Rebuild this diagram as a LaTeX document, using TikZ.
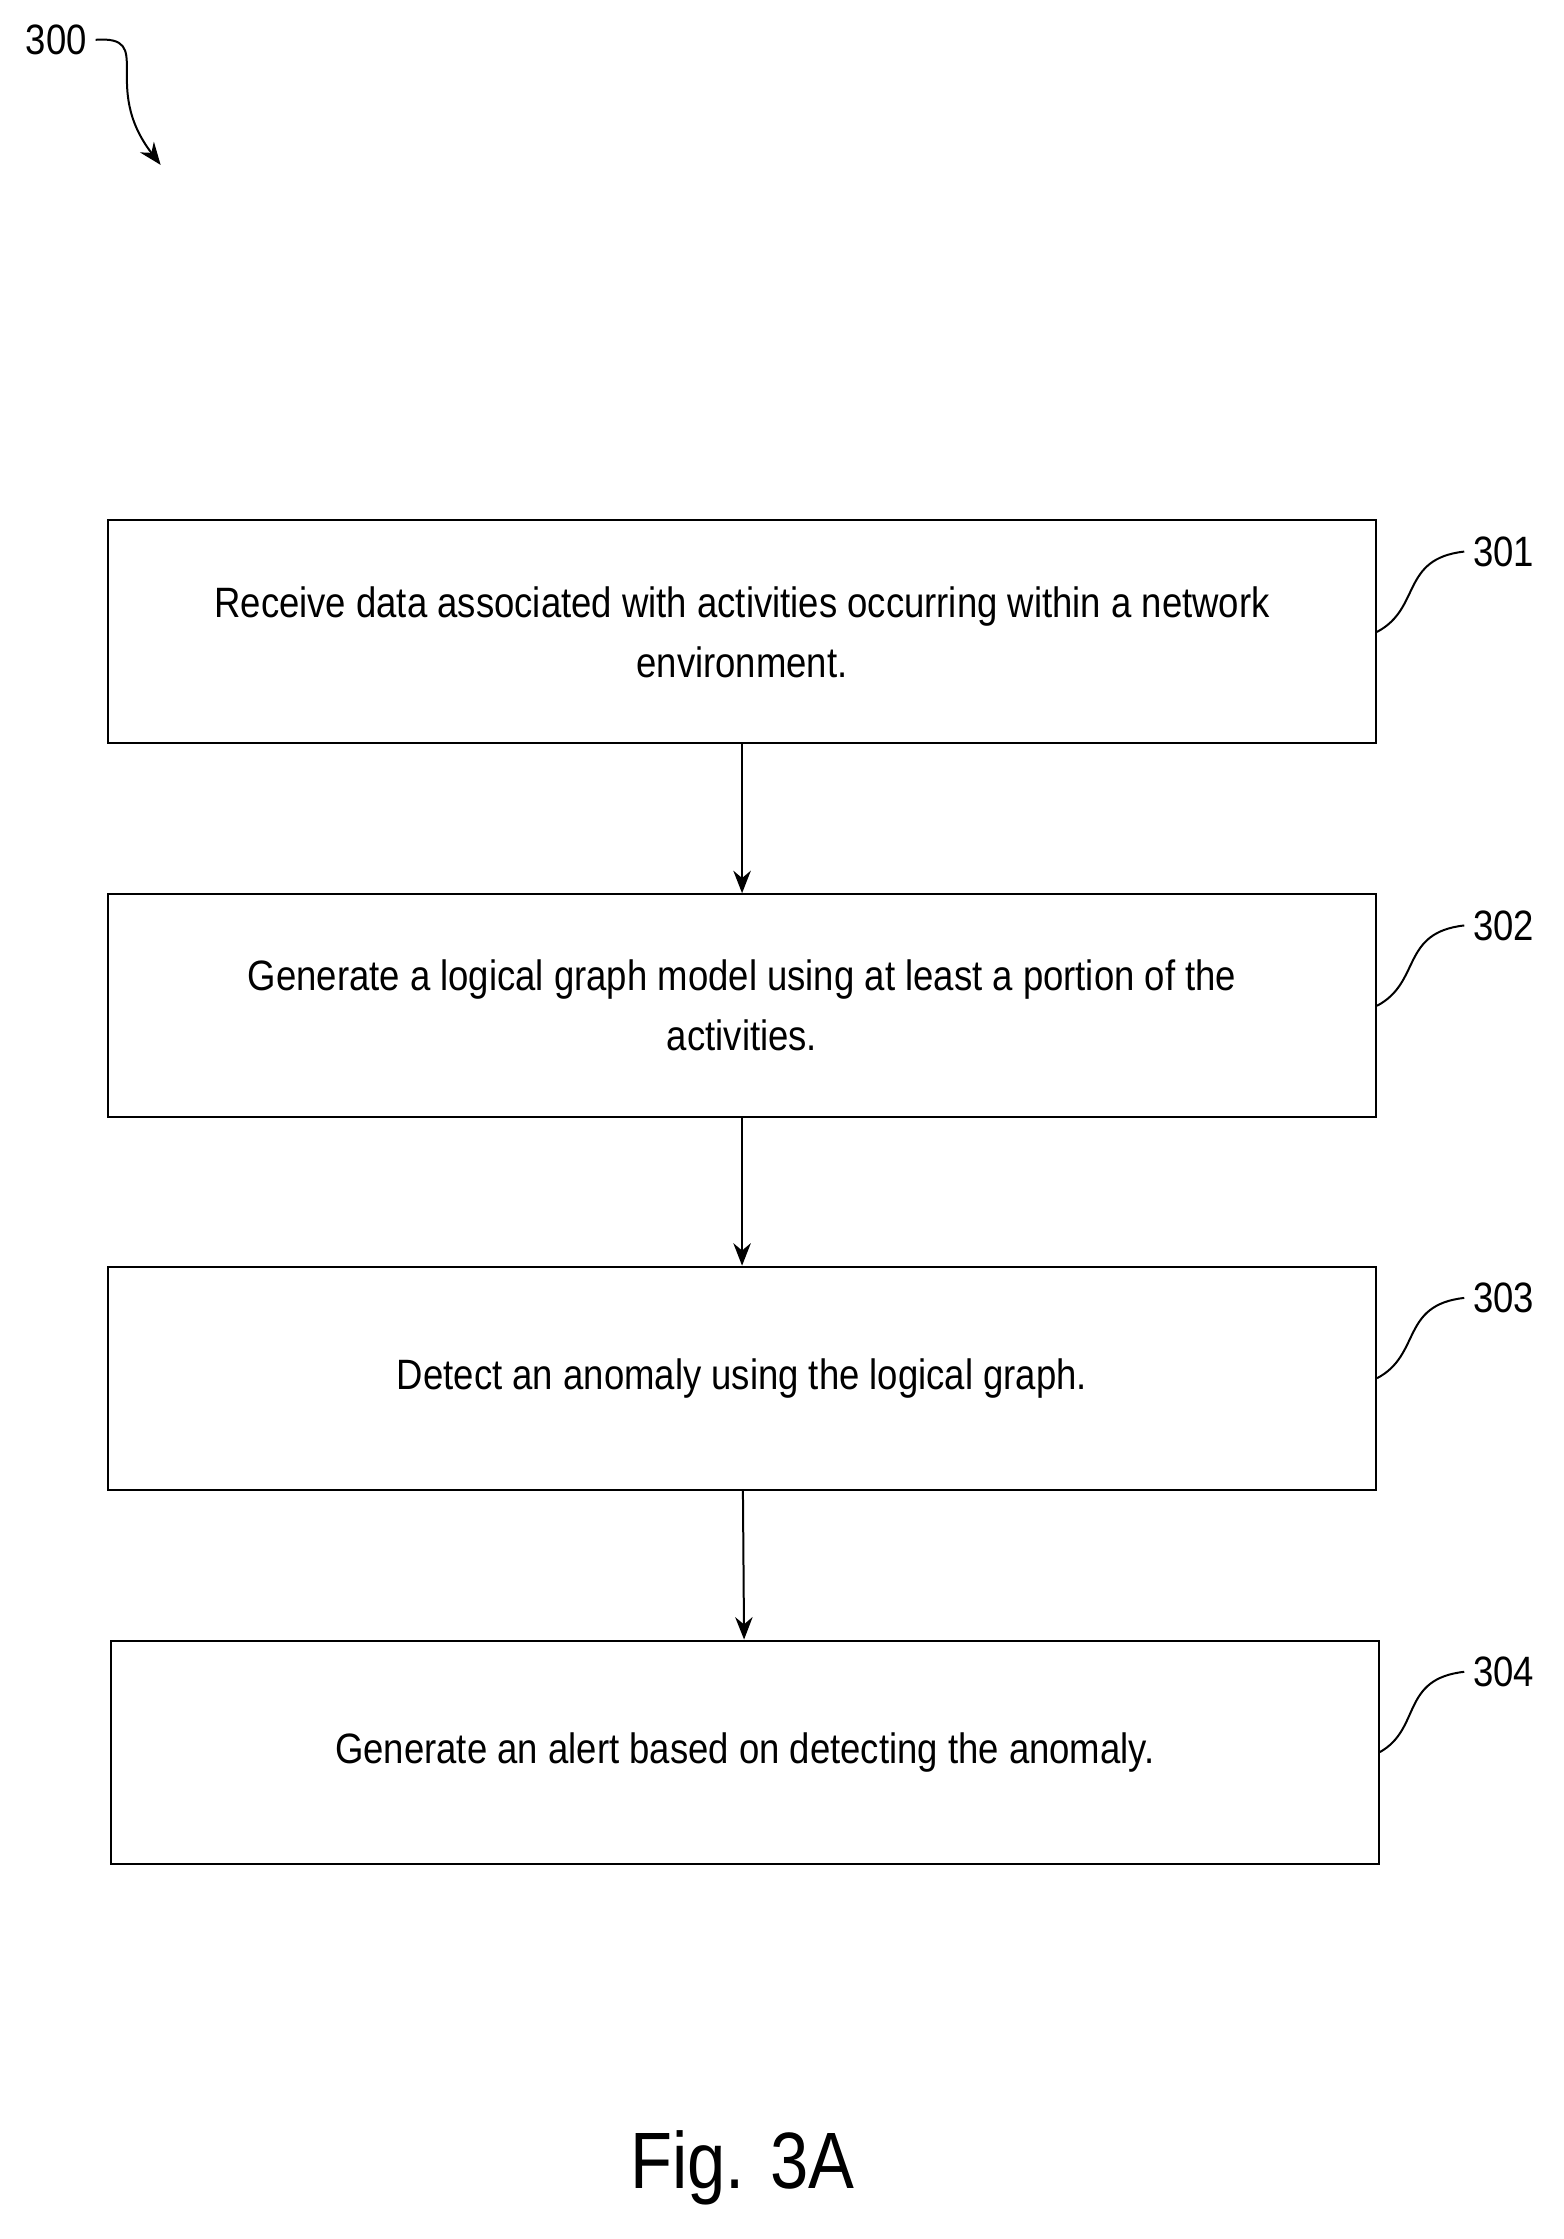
\documentclass[tikz,border=0pt]{standalone}
\usetikzlibrary{arrows.meta}
\usepackage{fontspec}
\usepackage{graphicx}
\setmainfont{Liberation Sans}
\newcommand{\nx}[1]{\scalebox{0.86}[1]{#1}}
\begin{document}
\begin{tikzpicture}[x=0.02cm,y=-0.02cm,
  box/.style={draw,line width=0.8pt,minimum width=17.84cm,minimum height=3.14cm,align=center,font=\fontsize{17}{24}\selectfont},
  lab/.style={font=\fontsize{17}{20}\selectfont},
  arr/.style={-{Stealth[length=9pt,width=7pt]},line width=0.8pt}]
\useasboundingbox (0,0) rectangle (1100,1575);
\node[box] (b1) at (522,444.5) {\nx{Receive data associated with activities occurring within a network}\\\nx{environment.}};
\node[box] (b2) at (522,707.5) {\nx{Generate a logical graph model using at least a portion of the}\\\nx{activities.}};
\node[box] (b3) at (522,969.5) {\nx{Detect an anomaly using the logical graph.}};
\node[box] (b4) at (524,1232.5) {\nx{Generate an alert based on detecting the anomaly.}};
\draw[arr] (b1) -- (b2);
\draw[arr] (b2) -- (b3);
\draw[arr] (b3) -- (b4);
\foreach \n/\t/\y in {1/301/388,2/302/651,3/303/913,4/304/1176}{
  \node[lab,anchor=west] (l\n) at (1030,\y) {\nx{\t}};
  \draw[line width=0.8pt] (b\n.east) .. controls (1000,\y+40) and (985,\y+5) .. (l\n.west);
}
\node[lab,anchor=west] (l0) at (12,28) {\nx{300}};
\coordinate (t0) at (113,116);
\draw[line width=0.8pt,-{Stealth[length=9pt,width=7pt]}] (l0.east) .. controls (110,25) and (70,60) .. (t0);
\node[font=\fontsize{32}{36}\selectfont] (fig) at (522,1525) {\nx{Fig. 3A}};
\end{tikzpicture}
\end{document}
